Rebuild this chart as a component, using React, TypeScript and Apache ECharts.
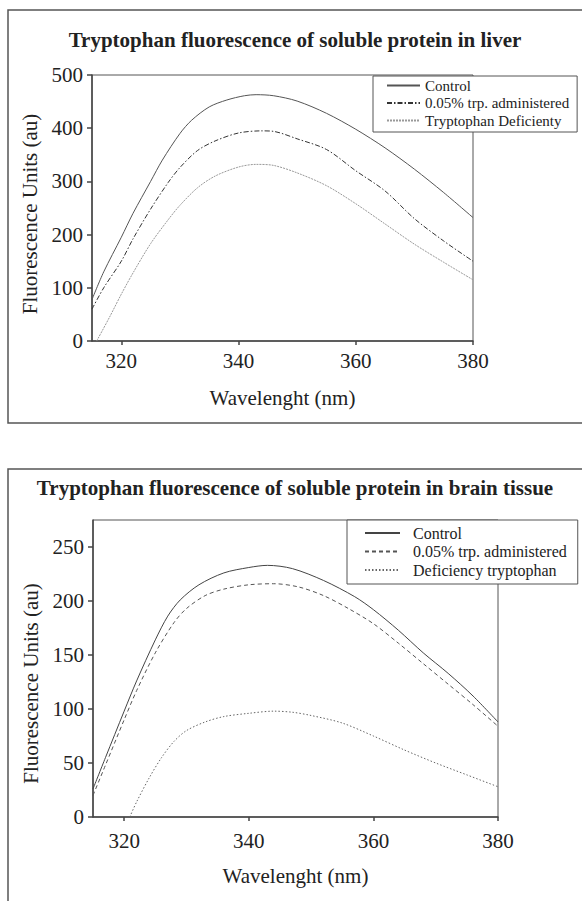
import React, { useEffect, useRef } from "react";
import * as echarts from "echarts";

const FONT = "Liberation Serif";

const titles = [
  "Tryptophan fluorescence of soluble protein in liver",
  "Tryptophan fluorescence of soluble protein in brain tissue",
];
const liverLegend = ["Control", "0.05% trp. administered", "Tryptophan Deficienty"];
const brainLegend = ["Control ", "0.05% trp. administered ", "Deficiency tryptophan"];
const xTicks = [320, 340, 360, 380];
const liverYTicks = [0, 100, 200, 300, 400, 500];
const brainYTicks = [0, 50, 100, 150, 200, 250];
const xName = "Wavelenght (nm)";
const yName = "Fluorescence Units (au)";

const liverControl = [
  [315, 78], [317, 130], [320, 195], [322, 240], [325, 300], [327, 340], [330, 390],
  [332, 415], [335, 440], [338, 453], [341, 461], [343, 463], [346, 461], [350, 451],
  [355, 428], [360, 398], [365, 363], [370, 323], [375, 279], [380, 232],
];
const liverAdmin = [
  [315, 60], [317, 100], [320, 150], [322, 192], [325, 248], [328, 298], [330, 326],
  [333, 358], [336, 376], [340, 391], [344, 395], [346, 394], [350, 380], [355, 360],
  [360, 320], [365, 282], [370, 230], [375, 188], [380, 150],
];
const liverDef = [
  [315.8, 0], [318, 45], [320, 88], [322, 128], [325, 183], [328, 228], [330, 255],
  [333, 288], [336, 310], [340, 327], [343, 332], [346, 330], [350, 316], [355, 292],
  [360, 258], [365, 220], [370, 182], [375, 148], [380, 115],
];
const brainControl = [
  [315, 26], [317, 55], [320, 98], [322, 126], [325, 164], [327, 186], [329, 201],
  [332, 215], [336, 226], [340, 231], [343, 233], [347, 230], [352, 219], [357, 204],
  [360, 192], [364, 173], [368, 152], [372, 133], [376, 112], [380, 88],
];
const brainAdmin = [
  [315, 20], [317, 48], [320, 90], [322, 117], [325, 152], [328, 180], [330, 193],
  [333, 205], [336, 211], [340, 215], [344, 216], [348, 213], [352, 205], [356, 193],
  [360, 179], [364, 161], [368, 142], [372, 123], [376, 104], [380, 84],
];
const brainDef = [
  [320.9, 0], [322, 14], [324, 36], [326, 55], [328, 70], [330, 80], [333, 88],
  [336, 93], [340, 96], [344, 98], [347, 97], [350, 94], [355, 87], [360, 75],
  [365, 62], [370, 50], [375, 39], [380, 28],
];

function xAxis(gridIndex: number, margin: number, nameGap: number) {
  return {
    type: "value",
    gridIndex,
    min: 315,
    max: 380,
    name: xName,
    nameLocation: "middle",
    nameGap,
    nameTextStyle: { fontFamily: FONT, fontSize: 21, color: "#222" },
    axisLine: { show: true, onZero: false, lineStyle: { color: "#444", width: 1.5 } },
    axisTick: { show: true, inside: false, length: 4, customValues: xTicks, lineStyle: { color: "#444", width: 1.5 } },
    axisLabel: { customValues: xTicks, fontFamily: FONT, fontSize: 21, color: "#222", margin },
    splitLine: { show: false },
  };
}

function yAxis(gridIndex: number, max: number, ticks: number[], pad: number) {
  return {
    type: "value",
    gridIndex,
    min: 0,
    max,
    name: yName,
    nameLocation: "middle",
    nameGap: 50,
    nameTextStyle: { fontFamily: FONT, fontSize: 21, color: "#222", padding: [0, pad, 0, 0] },
    axisLine: { show: true, onZero: false, lineStyle: { color: "#444", width: 1.5 } },
    axisTick: { show: true, inside: false, length: 5, customValues: ticks, lineStyle: { color: "#444", width: 1.5 } },
    axisLabel: { customValues: ticks, fontFamily: FONT, fontSize: 21, color: "#222", margin: 9 },
    splitLine: { show: false },
  };
}

function line(name: string, data: number[][], idx: number, color: string, type: any) {
  return {
    type: "line",
    name,
    data,
    xAxisIndex: idx,
    yAxisIndex: idx,
    smooth: 0.3,
    symbol: "none",
    showSymbol: false,
    lineStyle: { color, width: 1, type },
    itemStyle: { color },
  };
}

export default function App() {
  const ref = useRef<HTMLDivElement>(null);
  useEffect(() => {
    if (!ref.current) return;
    const chart = echarts.init(ref.current, null, { renderer: "svg" });
    chart.setOption({
      animation: false,
      backgroundColor: "#fff",
      textStyle: { fontFamily: FONT },
      title: [
        {
          text: titles[0], left: 295, top: 29, textAlign: "center", padding: 0,
          textStyle: { fontFamily: FONT, fontSize: 21, fontWeight: "bold", color: "#222" },
        },
        {
          text: titles[1], left: 295, top: 477, textAlign: "center", padding: 0,
          textStyle: { fontFamily: FONT, fontSize: 21, fontWeight: "bold", color: "#222" },
        },
      ],
      grid: [
        { left: 92, top: 75, width: 381, height: 266, show: true, borderColor: "#555", borderWidth: 1, backgroundColor: "transparent", containLabel: false, outerBoundsMode: "none" },
        { left: 93, top: 520, width: 405, height: 297, show: true, borderColor: "#555", borderWidth: 1, backgroundColor: "transparent", containLabel: false, outerBoundsMode: "none" },
      ],
      xAxis: [xAxis(0, 9, 46), xAxis(1, 13, 48)],
      yAxis: [yAxis(0, 500, liverYTicks, 12), yAxis(1, 275, brainYTicks, 30)],
      legend: [
        {
          data: liverLegend,
          orient: "vertical",
          left: 373,
          top: 76,
          padding: [2, 8, 4, 13],
          itemWidth: 33,
          itemHeight: 10,
          itemGap: 2.5,
          selectedMode: false,
          borderColor: "#555",
          borderWidth: 1,
          backgroundColor: "#fff",
          itemStyle: { opacity: 0 },
          textStyle: { fontFamily: FONT, fontSize: 15, color: "#222" },
        },
        {
          data: brainLegend,
          orient: "vertical",
          left: 347,
          top: 520,
          padding: [5, 7, 6, 17],
          itemWidth: 35,
          itemHeight: 10,
          itemGap: 2.5,
          selectedMode: false,
          borderColor: "#555",
          borderWidth: 1,
          backgroundColor: "#fff",
          itemStyle: { opacity: 0 },
          textStyle: { fontFamily: FONT, fontSize: 16, color: "#222", padding: [0, 0, 0, 8] },
        },
      ],
      graphic: [
        { type: "rect", shape: { x: 8, y: 10, width: 620, height: 413 }, style: { fill: "none", stroke: "#555", lineWidth: 1.5 }, silent: true },
        { type: "rect", shape: { x: 8, y: 469, width: 620, height: 500 }, style: { fill: "none", stroke: "#555", lineWidth: 1.5 }, silent: true },
      ],
      series: [
        line(liverLegend[0], liverControl, 0, "#555", "solid"),
        line(liverLegend[1], liverAdmin, 0, "#333", [5, 2, 1.5, 2]),
        line(liverLegend[2], liverDef, 0, "#999", [2, 1]),
        line(brainLegend[0], brainControl, 1, "#444", "solid"),
        line(brainLegend[1], brainAdmin, 1, "#555", [4, 3]),
        line(brainLegend[2], brainDef, 1, "#666", [1.5, 2]),
      ],
    });
    return () => chart.dispose();
  }, []);
  return (
    <div
      ref={ref}
      style={{ position: "absolute", left: 0, top: 0, width: 582, height: 901 }}
    />
  );
}
